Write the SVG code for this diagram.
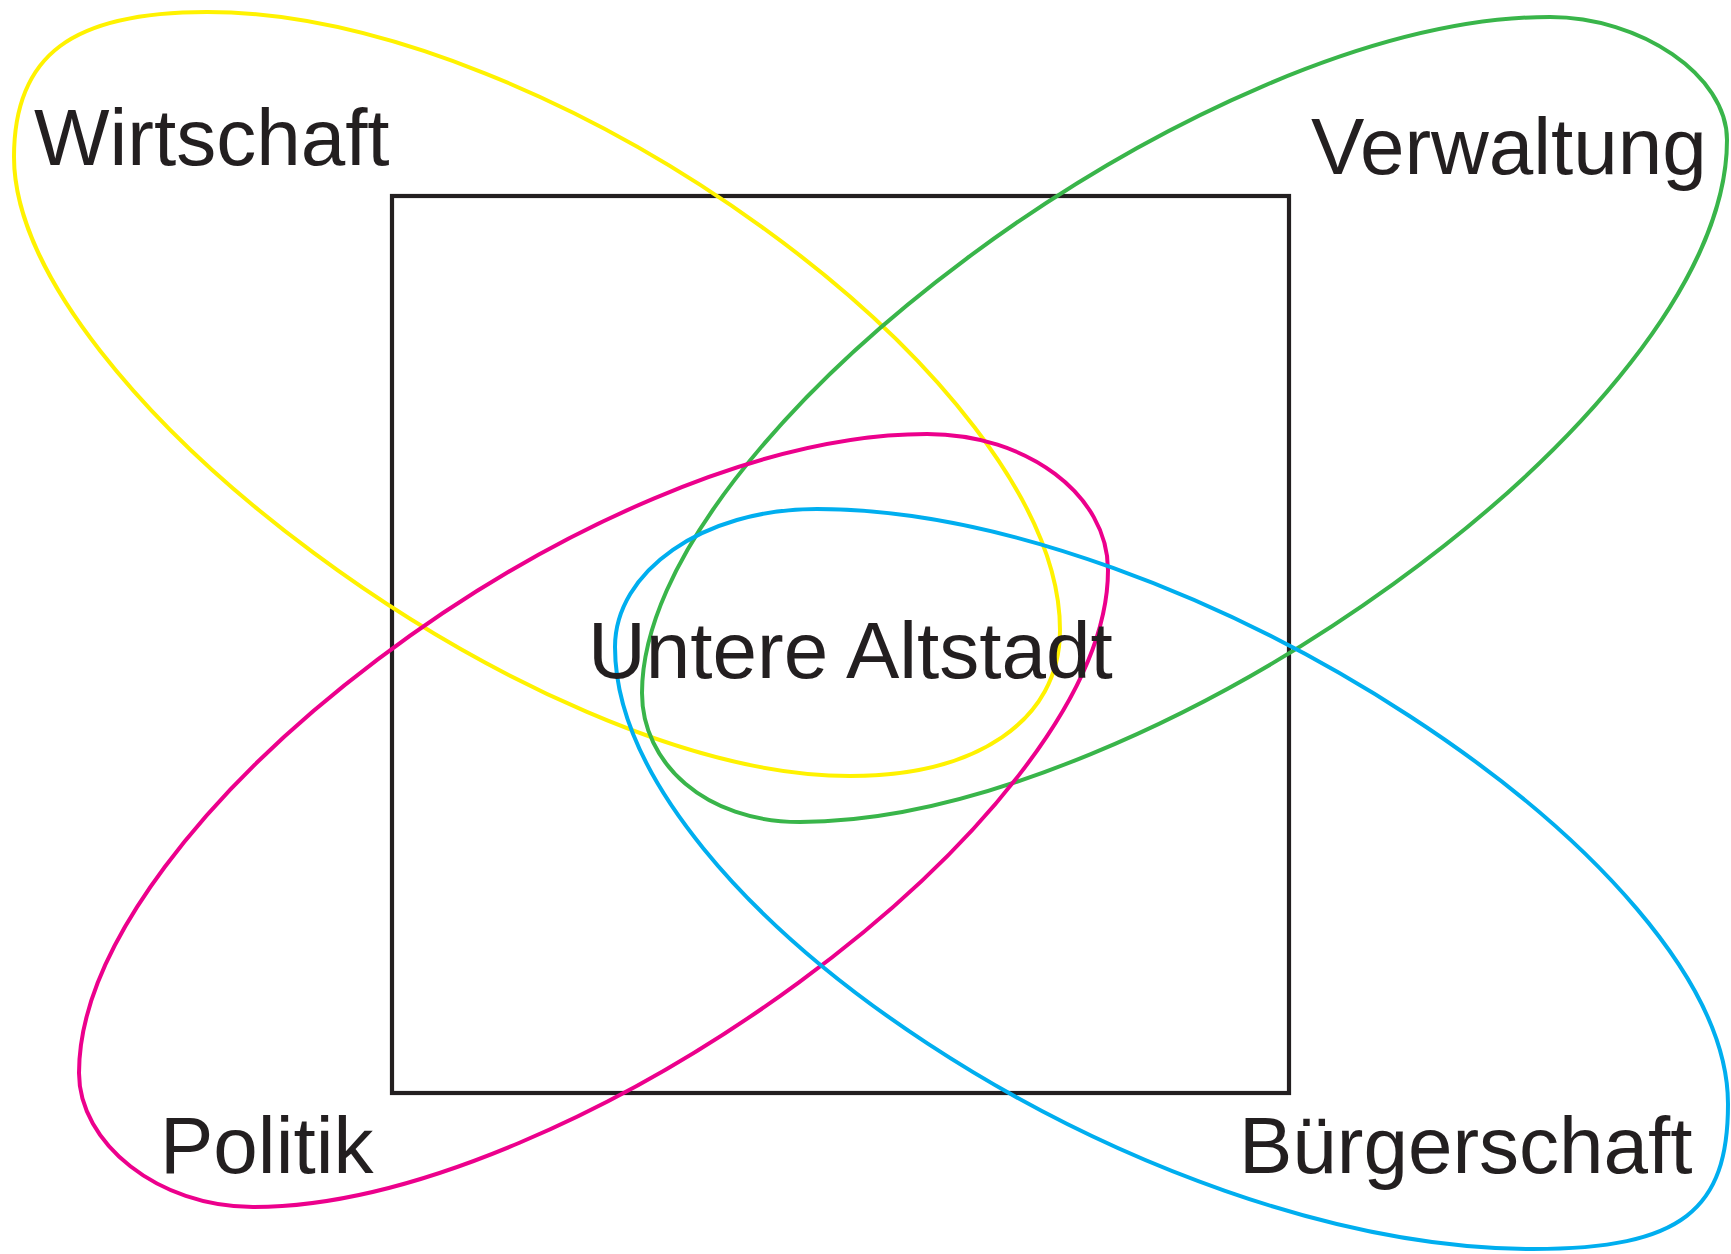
<svg xmlns="http://www.w3.org/2000/svg" width="1731" height="1254" viewBox="0 0 1731 1254">
<style>
.lbl{font-family:"Liberation Sans",Arial,sans-serif;font-size:80px;fill:#231f20}
.set{fill:none;stroke-width:4;stroke-linejoin:round}
</style>
<rect width="1731" height="1254" fill="#ffffff"/>
<g id="untere-altstadt">
<rect x="392" y="196" width="897" height="897" fill="none" stroke="#231f20" stroke-width="4.2"/>
</g>
<g id="wirtschaft">
<path class="set" stroke="#fff200" d="M207,12 C549.8,12 1060,379.5 1060,630 C1060,721.5 975,776 850,776 C534.6,776 14,387.5 14,157 C14,55 72,12 207,12 Z"/>
<text class="lbl" x="34" y="165">Wirtschaft</text>
</g>
<g id="verwaltung">
<path class="set" stroke="#39b54a" d="M1550,17 C1640,17 1727,75 1727,140 C1727,415 1145.9,822 800,822 C705,822 642,763 642,693 C642,436.4 1204.1,17 1550,17 Z"/>
<text class="lbl" x="1311" y="174">Verwaltung</text>
</g>
<g id="politik">
<path class="set" stroke="#ec008c" d="M927,434 C1027,434 1108,495 1108,570 C1108,820.9 568,1207 253,1207 C158,1207 79,1143 79,1073 C79,822.1 593.1,434 927,434 Z"/>
<text class="lbl" x="160" y="1173">Politik</text>
</g>
<g id="buergerschaft">
<path class="set" stroke="#00aeef" d="M817,509 C1181.2,509 1728,861.9 1728,1104 C1728,1209 1683,1249 1533,1249 C1143,1249 615,902 615,647 C615,572 702,509 817,509 Z"/>
<text class="lbl" x="1239" y="1173">Bürgerschaft</text>
</g>
<g id="untere-altstadt-label">
<text class="lbl" x="588" y="678">Untere Altstadt</text>
</g>
<g id="connectors"/>
</svg>
